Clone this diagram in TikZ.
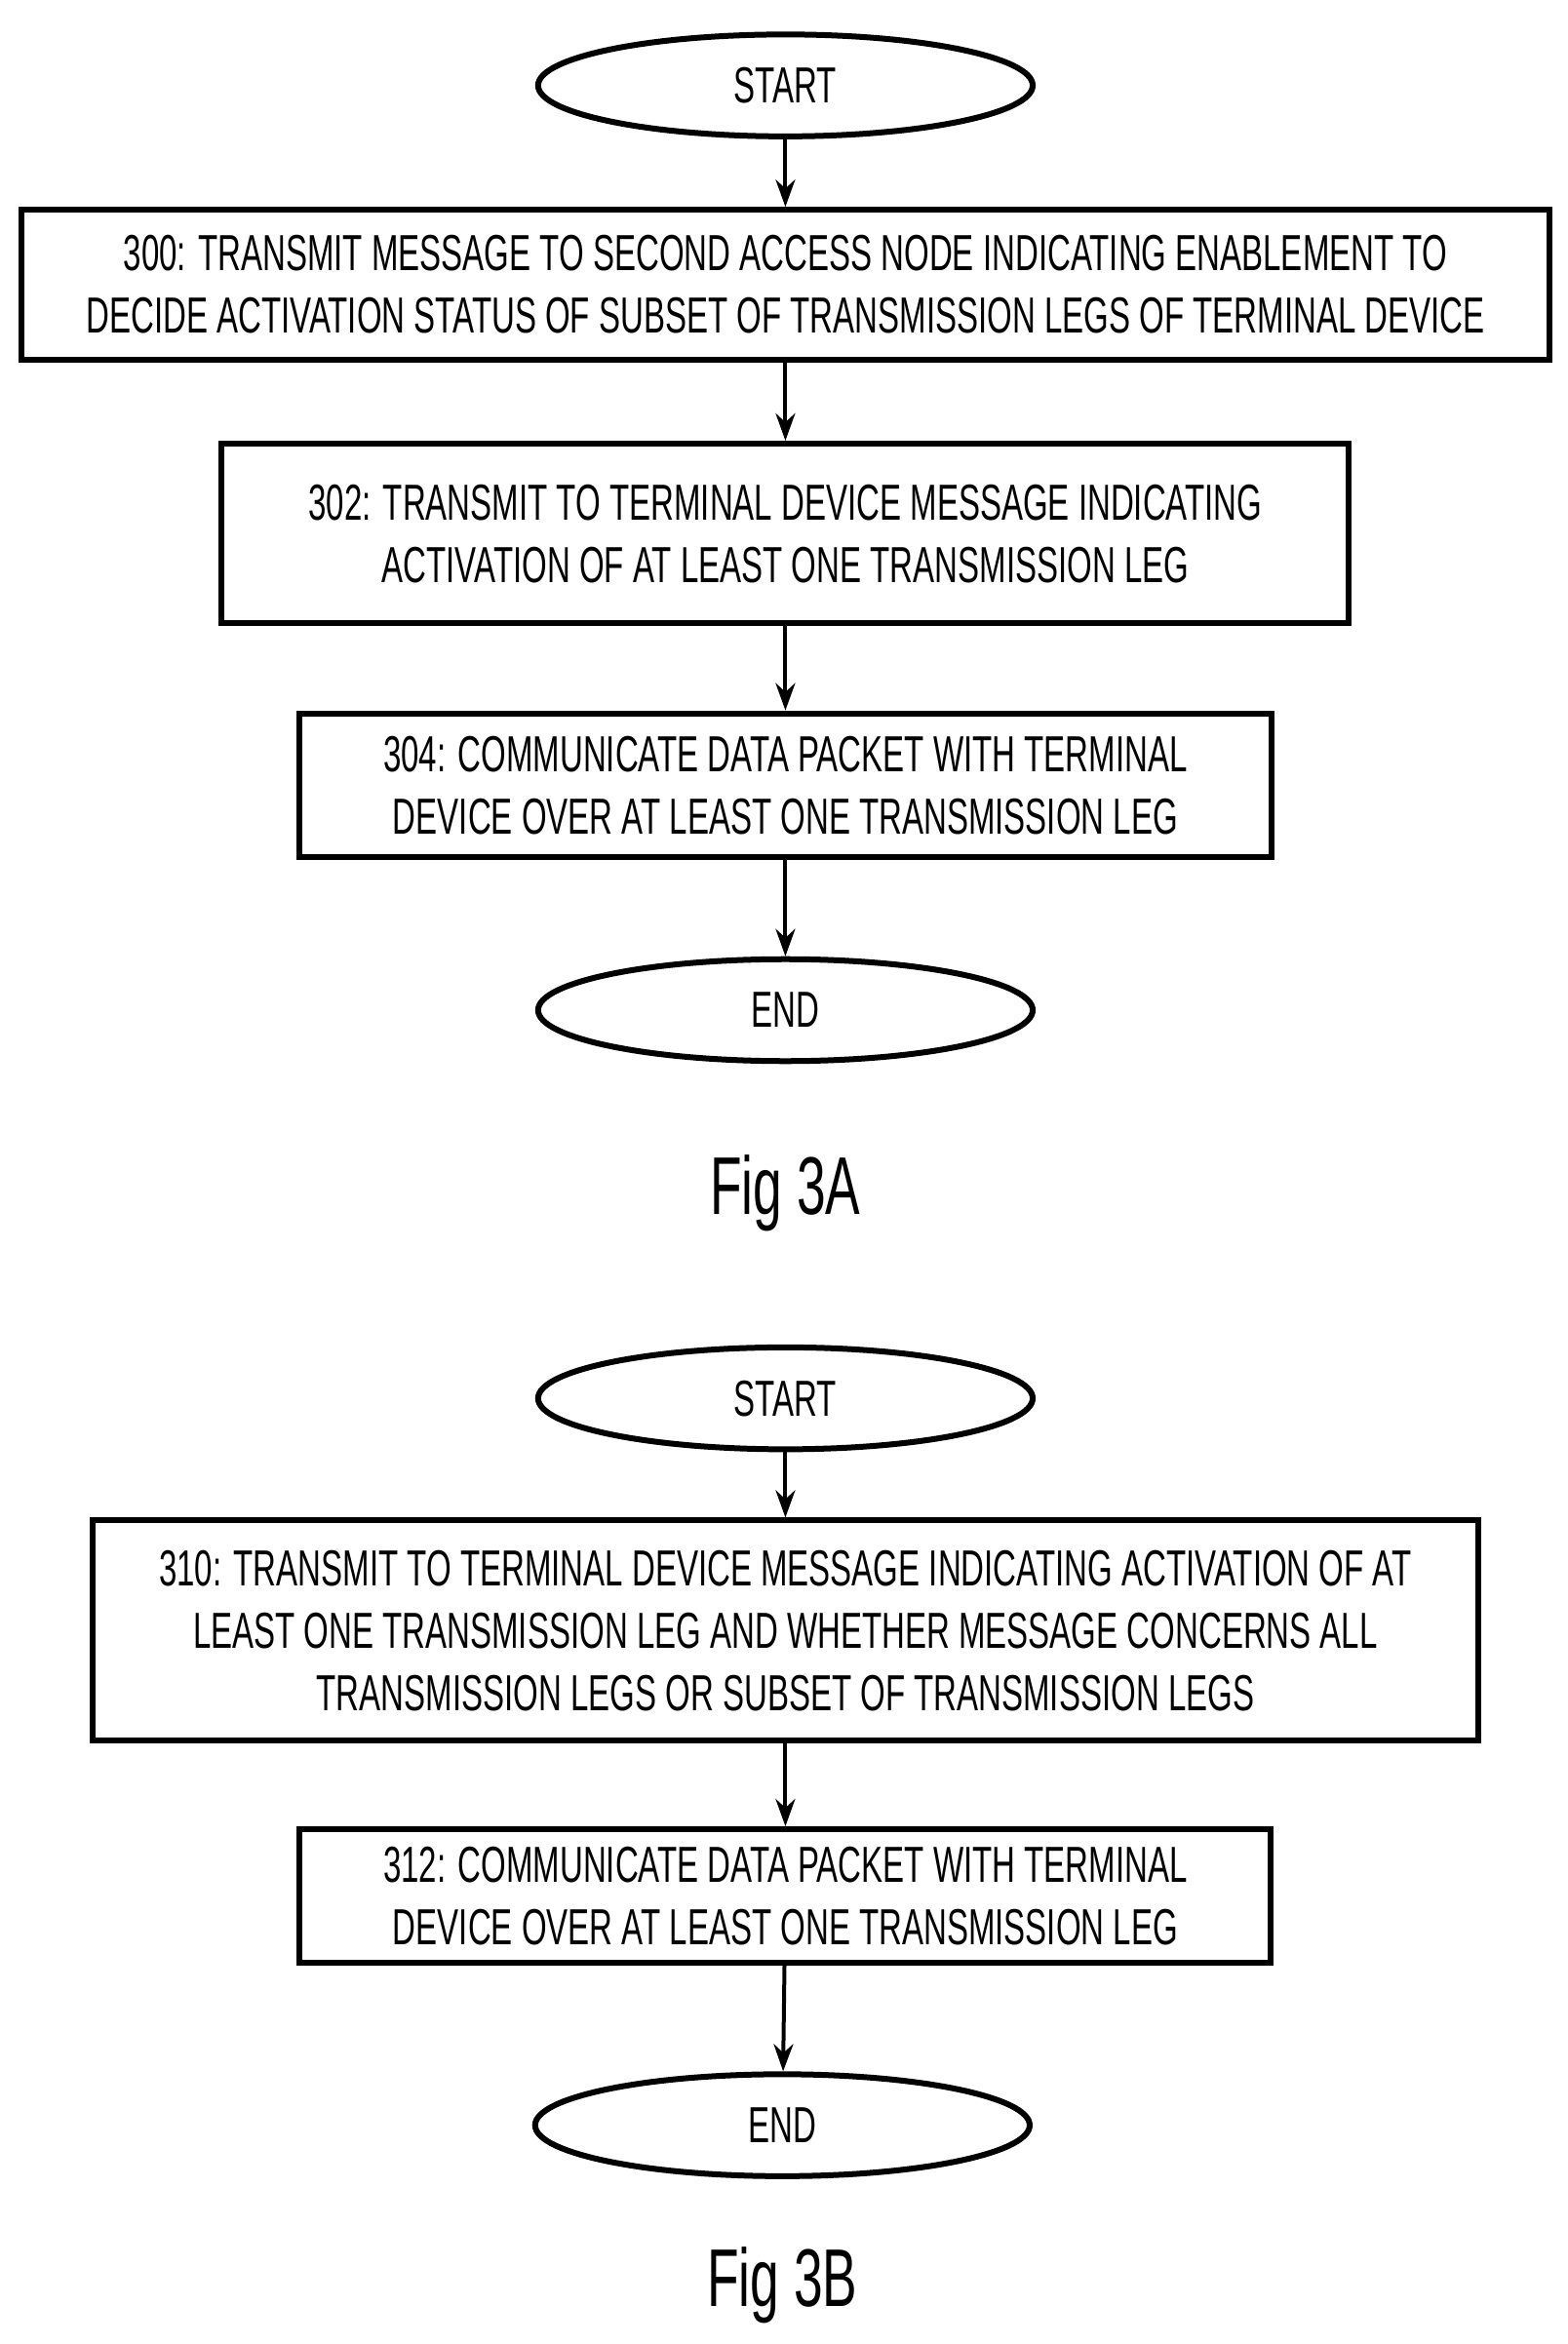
\documentclass[tikz,border=0pt]{standalone}
\usepackage{fontspec}
\setmainfont[FakeStretch=0.635]{Liberation Sans}
\usetikzlibrary{shapes.geometric,arrows.meta}
\begin{document}
\begin{tikzpicture}[x=0.7685pt,y=-0.7685pt,
  every node/.style={font=\fontsize{26}{32}\selectfont, inner sep=0pt},
  box/.style={draw, line width=3pt, rectangle, align=center},
  term/.style={draw, line width=3pt, ellipse, minimum width=330*0.7685pt, minimum height=68*0.7685pt},
  arr/.style={-{Stealth[length=14pt,width=10pt]}, line width=2pt},
  figcap/.style={font=\fontsize{42}{46}\selectfont}]
\useasboundingbox (0,0) rectangle (1046,1564);
\node[term] (s1) at (524,57) {START};
\node[box, minimum width=1020*0.7685pt, minimum height=100*0.7685pt] (b300) at (524,190) {300: TRANSMIT MESSAGE TO SECOND ACCESS NODE INDICATING ENABLEMENT TO\\DECIDE ACTIVATION STATUS OF SUBSET OF TRANSMISSION LEGS OF TERMINAL DEVICE};
\node[box, minimum width=752*0.7685pt, minimum height=120*0.7685pt] (b302) at (524,356) {302: TRANSMIT TO TERMINAL DEVICE MESSAGE INDICATING\\ACTIVATION OF AT LEAST ONE TRANSMISSION LEG};
\node[box, minimum width=649*0.7685pt, minimum height=96*0.7685pt] (b304) at (524,524) {304: COMMUNICATE DATA PACKET WITH TERMINAL\\DEVICE OVER AT LEAST ONE TRANSMISSION LEG};
\node[term] (e1) at (524,674) {END};
\node[figcap] (f1) at (524,796) {Fig 3A};
\draw[arr] (s1) -- (b300);
\draw[arr] (b300) -- (b302);
\draw[arr] (b302) -- (b304);
\draw[arr] (b304) -- (e1);

\node[term] (s2) at (524,933) {START};
\node[box, minimum width=924*0.7685pt, minimum height=147*0.7685pt] (b310) at (524,1088) {310: TRANSMIT TO TERMINAL DEVICE MESSAGE INDICATING ACTIVATION OF AT\\LEAST ONE TRANSMISSION LEG AND WHETHER MESSAGE CONCERNS ALL\\TRANSMISSION LEGS OR SUBSET OF TRANSMISSION LEGS};
\node[box, minimum width=648*0.7685pt, minimum height=89*0.7685pt] (b312) at (524,1265) {312: COMMUNICATE DATA PACKET WITH TERMINAL\\DEVICE OVER AT LEAST ONE TRANSMISSION LEG};
\node[term] (e2) at (522,1418) {END};
\node[figcap] (f2) at (522,1525) {Fig 3B};
\draw[arr] (s2) -- (b310);
\draw[arr] (b310) -- (b312);
\draw[arr] (b312) -- (e2);
\end{tikzpicture}
\end{document}
